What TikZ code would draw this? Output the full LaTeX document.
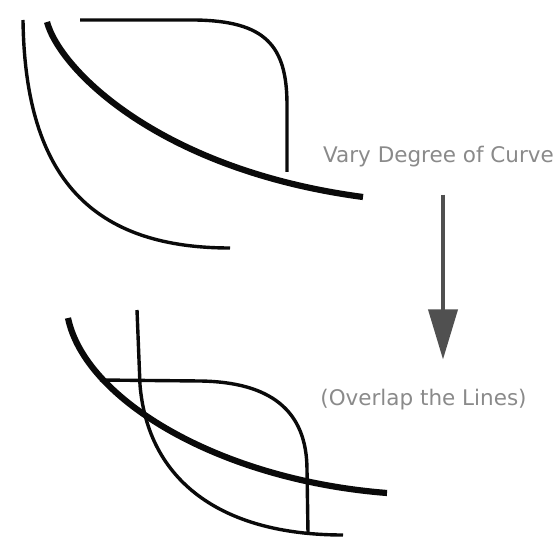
\documentclass[tikz,border=0pt]{standalone}
\usepackage{fontspec}
\setmainfont{DejaVu Sans}
\usetikzlibrary{arrows.meta}
\definecolor{ink}{HTML}{0A0A0A}
\definecolor{mute}{HTML}{8A8A8A}
\definecolor{shaft}{HTML}{505050}

\begin{document}
\begin{tikzpicture}[
  x=1pt, y=-1pt, ink,
  thin line/.style={draw=ink, line width=3.4pt},
  thick line/.style={draw=ink, line width=6.2pt},
  caption/.style={font=\fontsize{21.5}{24}\selectfont, text=mute, inner sep=0pt, anchor=base},
  flow/.style={-{Triangle[length=50pt, width=29pt]}, draw=shaft, line width=3.8pt},
]
\useasboundingbox (0,0) rectangle (557,548);

% ---- the three curves, apart -------------------------------------------------
\draw[thin line]  (23,20) .. controls (25,170) and (85,248) .. (230,248);
\draw[thick line] (47,22) .. controls (60,70) and (160,170) .. (363,197);
\draw[thin line]  (80,20) -- (195,20) .. controls (265,21) and (287,45) .. (287,105) -- (287,172);

% ---- the labels and the step between them -------------------------------------
\node[caption] (vary)    at (438.5,163) {Vary Degree of Curve};
\node[caption] (overlap) at (423.5,405) {(Overlap the Lines)};
\coordinate (stem) at (443,0);

\draw[flow, shorten <=27pt, shorten >=29pt] (vary.south -| stem) -- (overlap.north -| stem);

% ---- the same curves, overlapped ----------------------------------------------
\draw[thin line]  (137,310) -- (140,385) .. controls (148,480) and (220,535) .. (343,535);
\draw[thin line]  (100,380) -- (200,381) .. controls (270,382) and (307,410) .. (307,470) -- (308,533);
\draw[thick line] (68,318) .. controls (85,400) and (220,480) .. (387,493);

\end{tikzpicture}
\end{document}
